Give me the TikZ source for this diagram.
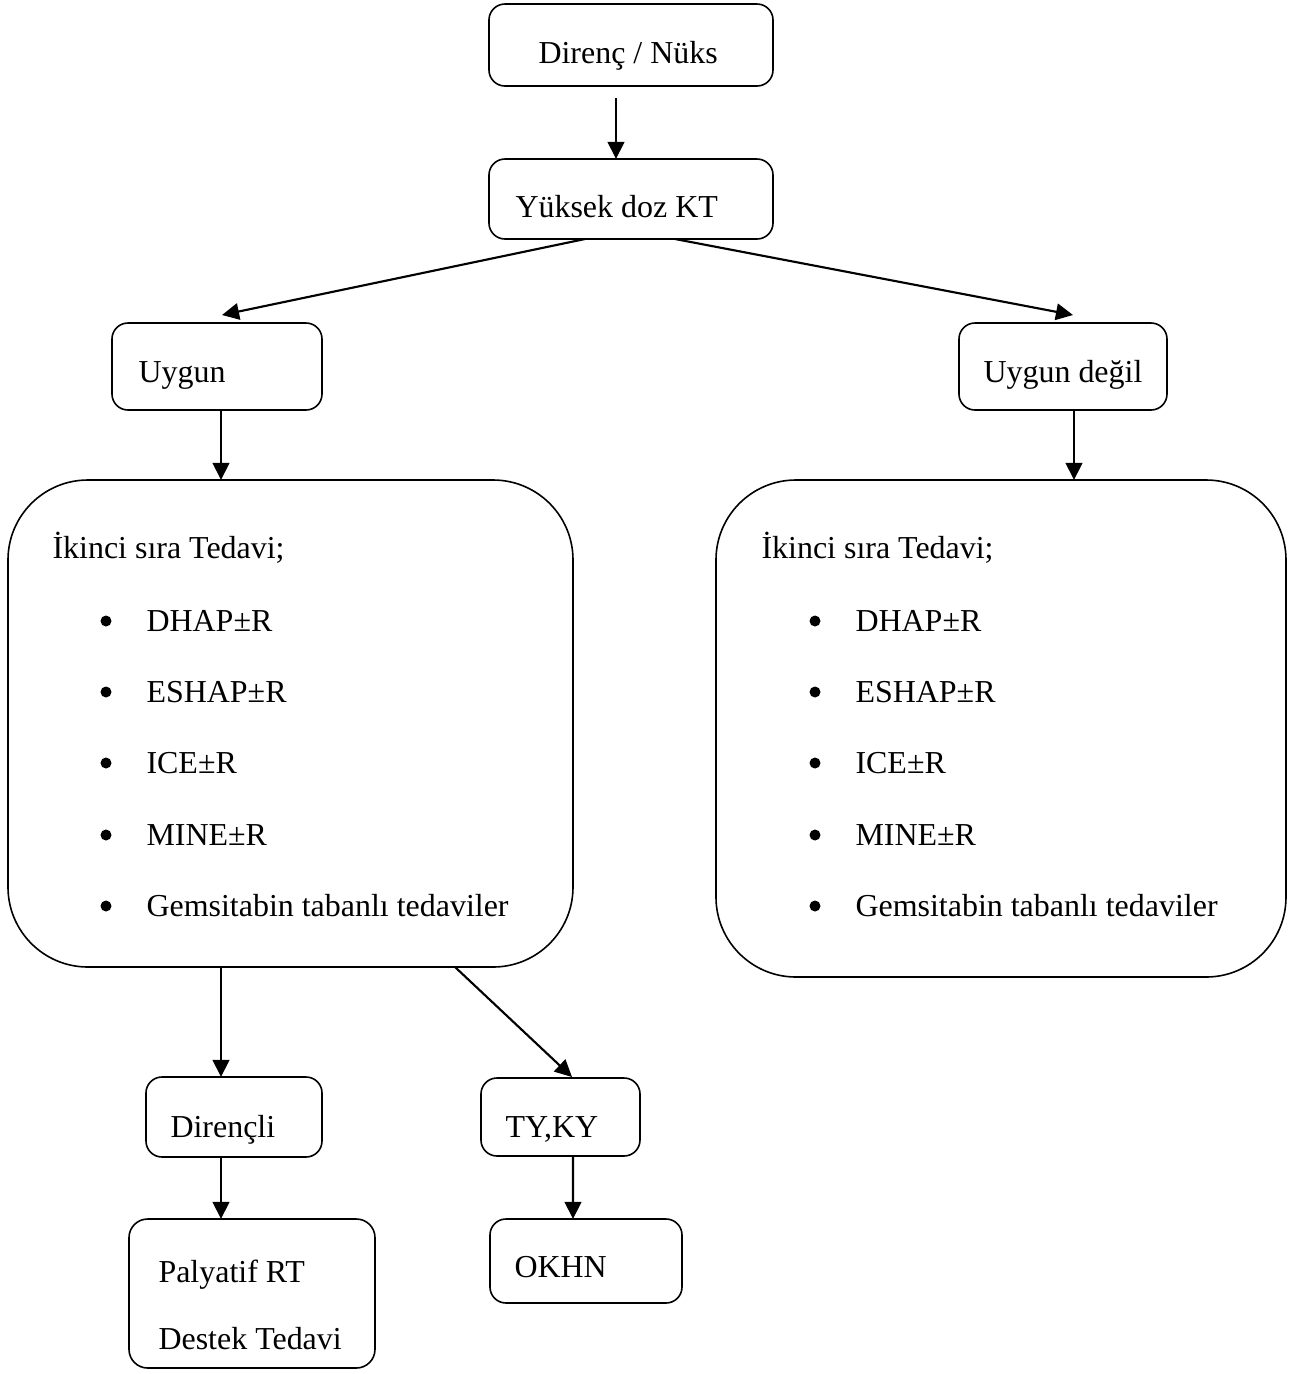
\documentclass[tikz,border=0pt]{standalone}
\usepackage{fontspec}
\setmainfont{Liberation Serif}
\usetikzlibrary{fit}
\usetikzlibrary{calc}
\usetikzlibrary{arrows.meta}

\begin{document}
\begin{tikzpicture}[
  x=0.0132cm, y=-0.0132cm,
  font=\fontsize{12pt}{14pt}\selectfont,
  box/.style={draw, rectangle, rounded corners=6pt, line width=0.6pt, inner sep=0pt, outer sep=0pt},
  bigbox/.style={box, rounded corners=30pt},
  txt/.style={anchor=base west, inner sep=0pt},
  arr/.style={line width=0.8pt, -{Triangle[length=6.4pt, width=6.2pt]}},
]
\useasboundingbox (0,0) rectangle (1295,1374);

% boxes
\node (diren) [box, fit={(489,4) (773,86)}] {};
\node (yuksek) [box, fit={(489,159) (773,239)}] {};
\node (uygun) [box, fit={(112,323) (322,410)}] {};
\node (degil) [box, fit={(959,323) (1167,410)}] {};
\node (uygunted) [bigbox, fit={(8,480) (573,967)}] {};
\node (degilted) [bigbox, fit={(716,480) (1286,977)}] {};
\node (direncli) [box, fit={(146,1077) (322,1157)}] {};
\node (tyky) [box, fit={(481,1078) (640,1156)}] {};
\node (palyatif) [box, rounded corners=7pt, fit={(129,1219) (375,1368)}] {};
\node (okhn) [box, fit={(490,1219) (682,1303)}] {};

% texts
\node (diren-t) [txt] at (538,63) {Direnç / Nüks};
\node (yuksek-t) [txt] at (515,217) {Yüksek doz KT};
\node (uygun-t) [txt] at (138,382) {Uygun};
\node (degil-t) [txt] at (983,382) {Uygun değil};
\node (direncli-t) [txt] at (170,1137) {Dirençli};
\node (tyky-t) [txt] at (505,1137) {TY,KY};
\node (palyatif-t) [txt] at (158,1282) {Palyatif RT};
\node (destek-t) [txt] at (158,1349) {Destek Tedavi};
\node (okhn-t) [txt] at (514,1277) {OKHN};

% second line treatment lists
\foreach \dx/\s in {0/a, 709/b} {
  \node (ikinci\s) [txt] at (52+\dx,558) {İkinci sıra Tedavi;};
  \foreach \y/\ilac [count=\k] in {631/DHAP±R, 702/ESHAP±R, 773/ICE±R, 845/MINE±R, 916/Gemsitabin tabanlı tedaviler} {
    \fill (106+\dx,\y-10) circle (5.5);
    \node (ilac\s\k) [txt] at (146+\dx,\y) {\ilac};
  }
}

% arrows
\draw[arr] ($(diren.south)+(-15,12)$) -- ($(yuksek.north)+(-15,0)$);
\draw[arr] ($(yuksek.south)+(-46,0)$) -- ($(uygun.north)+(5,-8)$);
\draw[arr] ($(yuksek.south)+(44,0)$) -- ($(degil.north)+(10,-8)$);
\draw[arr] ($(uygun.south)+(4,0)$) -- ($(uygun.south |- uygunted.north)+(4,0)$);
\draw[arr] ($(degil.south)+(11,0)$) -- ($(degil.south |- degilted.north)+(11,0)$);
\draw[arr] ($(direncli.north |- uygunted.south)+(-13,0)$) -- ($(direncli.north)+(-13,0)$);
\draw[arr] ($(uygunted.south)+(164.5,0)$) -- ($(tyky.north)+(11.5,-1)$);
\draw[arr] ($(direncli.south)+(-13,0)$) -- ($(palyatif.north)+(-31,0)$);
\draw[arr] ($(tyky.south)+(12.5,0)$) -- ($(okhn.north)+(-13,0)$);

\end{tikzpicture}
\end{document}
